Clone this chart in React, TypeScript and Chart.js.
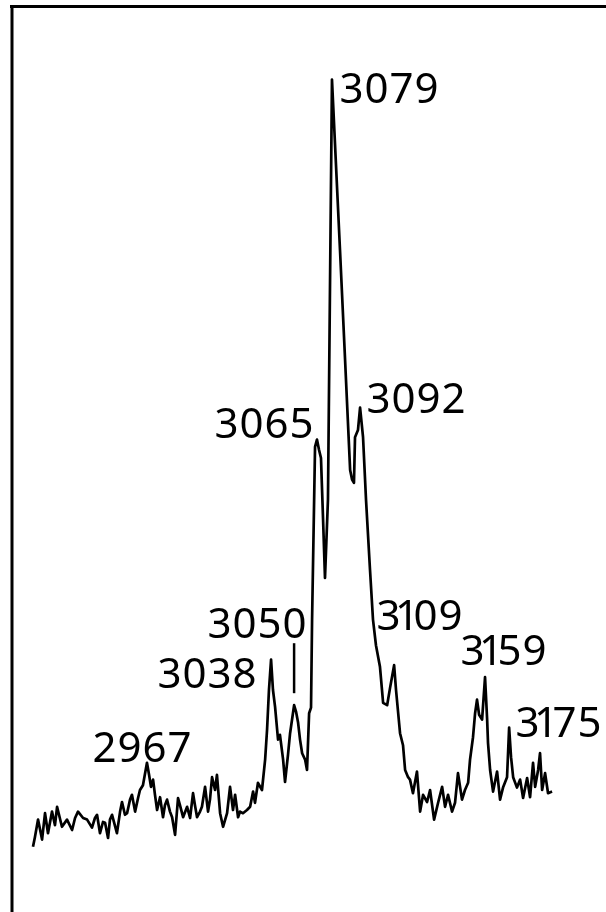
import { useEffect, useRef } from 'react';
import { Chart, registerables } from 'chart.js';

Chart.register(...registerables);

// Wavenumber (cm^-1) of each traced point of the spectrum
const wavenumber = [
  2901.7, 2902.8, 2904.6, 2906.9, 2908.6, 2910.3, 2912.6, 2914.3, 2915.5, 2918.3,
  2921.2, 2924.1, 2925.8, 2927.5, 2930.4, 2932.7, 2935.5, 2937.2, 2938.4, 2940.1,
  2941.8, 2943.0, 2944.7, 2945.8, 2947.0, 2949.8, 2951.6, 2952.7, 2954.4, 2955.6,
  2957.3, 2958.4, 2960.2, 2961.9, 2963.0, 2964.7, 2967.0, 2968.2, 2969.3, 2970.5,
  2971.6, 2972.8, 2974.5, 2976.2, 2977.3, 2978.5, 2980.2, 2981.4, 2983.1, 2984.8,
  2985.9, 2987.7, 2990.0, 2991.7, 2993.4, 2994.5, 2995.7, 2997.4, 2998.5, 3000.3,
  3002.0, 3003.1, 3004.3, 3006.0, 3007.1, 3008.9, 3010.6, 3012.9, 3014.6, 3016.3,
  3017.5, 3019.2, 3020.3, 3022.0, 3024.3, 3026.1, 3027.8, 3028.9, 3030.6, 3032.9,
  3034.7, 3035.8, 3036.9, 3038.1, 3039.2, 3040.4, 3042.1, 3043.2, 3045.0, 3046.1,
  3047.8, 3049.0, 3051.3, 3052.4, 3053.6, 3054.7, 3055.9, 3057.6, 3058.7, 3059.9,
  3061.0, 3061.6, 3063.3, 3064.4, 3065.6, 3066.7, 3067.9, 3069.0, 3070.7,
  3073.0, 3077.6, 3080.5, 3083.4, 3084.5, 3085.6, 3086.2, 3087.9, 3089.1, 3090.8,
  3092.5, 3094.8, 3096.5, 3098.2, 3100.5, 3102.3, 3104.6, 3106.3, 3108.6, 3109.7,
  3112.0, 3113.7, 3114.9, 3116.6, 3117.7, 3119.4, 3121.7, 3123.5, 3125.2, 3127.5,
  3129.2, 3131.5, 3133.8, 3136.1, 3137.8, 3139.5, 3141.8, 3143.5, 3145.2, 3147.5,
  3149.2, 3151.0, 3152.1, 3153.8, 3155.0, 3156.1, 3157.3, 3159.0, 3160.7, 3161.9,
  3162.4, 3163.6, 3165.3, 3167.6, 3169.3, 3171.0, 3173.3, 3174.5, 3175.6, 3176.8,
  3179.0, 3180.8, 3182.5, 3184.8, 3186.5, 3188.2, 3189.4, 3191.1, 3192.2, 3193.4,
  3195.1, 3196.8, 3199.1,
];

// Relative intensity of each traced point
const intensity = [
  2.9, 4.1, 6.3, 3.8, 7.1, 4.6, 7.3, 5.6, 7.9, 5.4,
  6.3, 5.0, 6.5, 7.3, 6.5, 6.3, 5.3, 6.5, 6.9, 4.6,
  6.0, 5.9, 4.0, 6.3, 6.9, 4.6, 7.3, 8.5, 6.9, 7.1,
  8.8, 9.4, 7.3, 9.0, 10.0, 10.6, 13.4, 11.9, 10.4, 11.3,
  9.4, 7.5, 9.1, 6.6, 8.1, 8.8, 7.3, 6.6, 4.4, 9.0,
  8.1, 6.6, 7.9, 6.5, 9.6, 8.1, 6.6, 7.3, 7.9, 10.4,
  7.3, 8.8, 11.6, 10.0, 11.9, 7.1, 5.4, 7.1, 10.4, 7.5,
  9.4, 6.6, 7.3, 7.1, 7.5, 7.9, 9.8, 8.4, 10.9, 10.0,
  13.8, 17.5, 22.5, 26.3, 22.5, 20.4, 16.3, 16.9, 13.8, 11.0,
  14.4, 17.1, 20.6, 19.8, 18.4, 16.3, 14.6, 13.8, 12.5, 19.6,
  20.3, 31.3, 52.9, 53.8, 52.5, 51.5, 43.8, 36.5, 46.3,
  98.8, 77.5, 63.8, 50.0, 48.8, 48.4, 54.1, 55.0, 57.8, 54.1,
  46.3, 37.5, 31.3, 28.1, 25.4, 20.9, 20.6, 22.8, 25.6, 22.5,
  17.1, 15.6, 12.5, 11.6, 11.3, 9.6, 12.3, 7.3, 9.4, 8.5,
  10.0, 6.3, 8.4, 10.4, 7.9, 9.4, 7.3, 8.4, 12.1, 8.8,
  10.0, 10.9, 13.8, 16.6, 19.6, 21.3, 19.4, 18.8, 24.1, 18.8,
  15.9, 12.5, 9.8, 12.3, 8.8, 10.3, 11.6, 17.8, 14.1, 11.6,
  10.3, 11.3, 9.0, 11.5, 9.1, 13.4, 10.4, 12.5, 14.6, 10.0,
  12.1, 9.6, 9.8,
];

// Peak annotations
const peakLabels = ['2967', '3038', '3050', '3065', '3079', '3092', '3109', '3159', '3175'];
// Wavenumber of the traced point each label belongs to
const peakPoints = [2967.0, 3038.1, 3051.3, 3064.4, 3073.0, 3089.1, 3108.6, 3160.7, 3174.5];

// Axis ranges (hidden axes)
const X_MIN = 2882.8;
const X_MAX = 3230.0;
const Y_MIN = -5.25;
const Y_MAX = 108.75;

// Label placement relative to its peak: [dx to text left, dy to baseline]
const LABEL_OFFSETS: [number, number][] = [
  [-55, -1],
  [-114, 28],
  [-87, -67],
  [-103, -2],
  [7, 23],
  [6, 5],
  [-18, -35],
  [-25, -12],
  [6, 9],
];
const LEADER_LABEL = '3050';

const FONT = '42px "Noto Sans"';
const DIGIT_ADV = 25;
const ONE_ADV = 12;

const annotationPlugin = {
  id: 'peakAnnotations',
  beforeDraw(chart: any) {
    const { ctx, width, height } = chart;
    ctx.save();
    ctx.fillStyle = '#ffffff';
    ctx.fillRect(0, 0, width, height);
    ctx.restore();
  },
  afterDatasetsDraw(chart: any) {
    const { ctx, width, height } = chart;
    const xs = chart.scales.x;
    const ys = chart.scales.y;
    ctx.save();
    // frame (top and left borders)
    ctx.strokeStyle = '#000';
    ctx.lineWidth = 3;
    ctx.beginPath();
    ctx.moveTo(10, 6.5);
    ctx.lineTo(width, 6.5);
    ctx.moveTo(12, 5);
    ctx.lineTo(12, height);
    ctx.stroke();

    ctx.fillStyle = '#000';
    ctx.font = FONT;
    ctx.textBaseline = 'alphabetic';
    peakLabels.forEach((lab, i) => {
      const idx = wavenumber.indexOf(peakPoints[i]);
      const px = xs.getPixelForValue(wavenumber[idx]);
      const py = ys.getPixelForValue(intensity[idx]);
      let cx = px + LABEL_OFFSETS[i][0];
      const by = py + LABEL_OFFSETS[i][1];
      for (const ch of lab) {
        const adv = ch === '1' ? ONE_ADV : DIGIT_ADV;
        const w = ctx.measureText(ch).width;
        ctx.fillText(ch, cx + (adv - w) / 2, by);
        cx += adv;
      }
      if (lab === LEADER_LABEL) {
        ctx.lineWidth = 2.5;
        ctx.beginPath();
        ctx.moveTo(px, py - 62);
        ctx.lineTo(px, py - 12);
        ctx.stroke();
      }
    });
    ctx.restore();
  },
};

export default function App() {
  const canvasRef = useRef<HTMLCanvasElement | null>(null);

  useEffect(() => {
    const canvas = canvasRef.current;
    if (!canvas) return;
    const chart = new Chart(canvas, {
      type: 'scatter',
      data: {
        datasets: [
          {
            data: wavenumber.map((w, i) => ({ x: w, y: intensity[i] })),
            showLine: true,
            borderColor: '#000',
            borderWidth: 2.7,
            pointRadius: 0,
            tension: 0,
            borderJoinStyle: 'round',
            fill: false,
          },
        ],
      },
      options: {
        responsive: false,
        animation: false,
        devicePixelRatio: 1,
        layout: { padding: 0 },
        plugins: { legend: { display: false }, tooltip: { enabled: false } },
        events: [],
        scales: {
          x: { type: 'linear', min: X_MIN, max: X_MAX, display: false },
          y: { type: 'linear', min: Y_MIN, max: Y_MAX, display: false },
        },
      },
      plugins: [annotationPlugin],
    });
    return () => chart.destroy();
  }, []);

  return (
    <div style={{ position: 'absolute', left: 0, top: 0, width: 606, height: 912, background: '#fff' }}>
      <canvas ref={canvasRef} width={606} height={912} style={{ display: 'block' }} />
    </div>
  );
}
